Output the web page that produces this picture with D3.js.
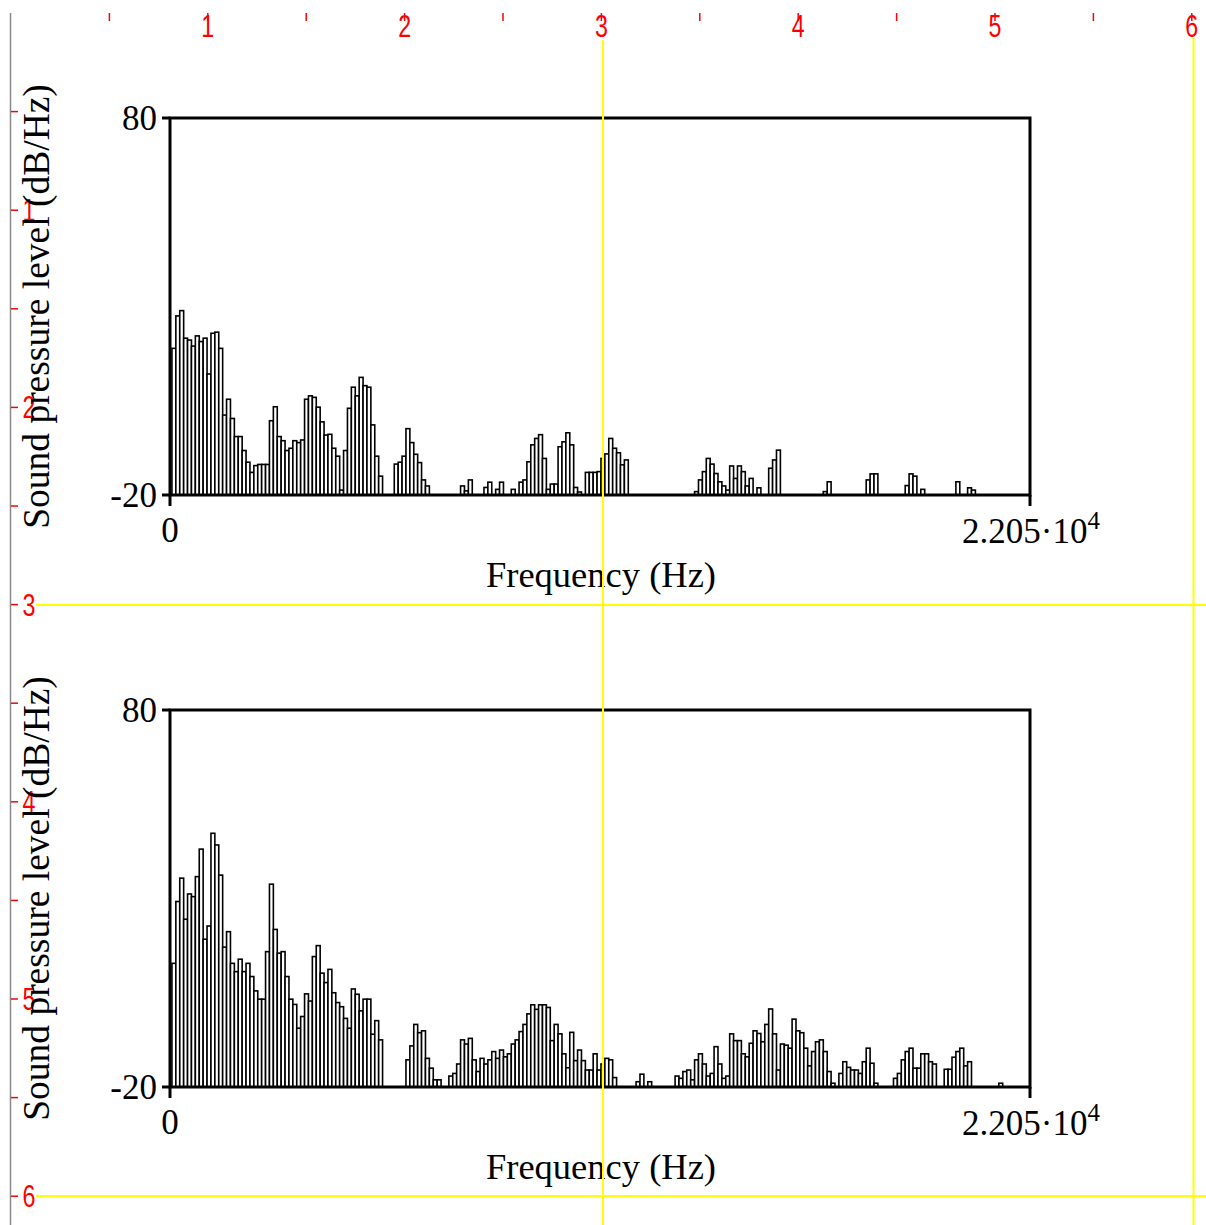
<!DOCTYPE html>
<html><head><meta charset="utf-8">
<script src="https://cdn.jsdelivr.net/npm/d3@7"></script>
<style>html,body{margin:0;padding:0;background:#fff;overflow:hidden} svg{display:block}</style>
</head><body>
<script>
// ---- data (dB/Hz per 100 Hz band; null = below the -20 floor) ----
const binHz = 100;
const topLevels = [
 18.9, 27.5, 28.9, 21.6, 21.1, 19.5, 22.2, 20.7, 21.6, 12.1,
 22.9, 23.2, 18.9, 1.2, 5.4, 0.3, -4.5, -4.5, -8.2, -11.3,
 -14.0, -12.2, -11.9, -11.9, -11.9, -0.3, 3.4, -4.5, -5.6, -8.2,
 -7.6, -5.6, -6.1, -5.4, 5.4, 6.3, 5.9, 3.3, -0.6, -4.1,
 -3.9, -7.6, -9.7, -18.7, -8.2, 3.0, 8.6, 6.3, 11.2, 9.0,
 8.6, -1.4, -9.7, -15.0, null, null, null, -11.8, -11.3, -9.7,
 -2.4, -6.1, -9.2, -11.4, -16.0, -17.6, null, null, null, null,
 null, null, null, null, -17.6, -18.9, -16.0, null, null, null,
 -18.0, -16.6, null, -18.5, -16.6, null, null, -18.5, null, -16.6,
 -16.0, -11.2, -6.7, -5.0, -4.0, -10.3, -18.5, -17.1, -17.1, -7.2,
 -5.9, -3.5, -6.7, -18.0, -19.2, null, -14.0, -14.0, -14.0, -13.8,
 -10.3, -9.1, -5.0, -7.6, -8.8, -12.0, -10.7, null, null, null,
 null, null, null, null, null, null, null, null, null, null,
 null, null, null, null, -19.1, -16.0, -13.8, -10.3, -11.8, -14.3,
 -16.5, -17.6, -18.7, -12.3, -15.6, -12.3, -13.8, -17.6, -15.6, null,
 -18.1, null, null, -12.9, -10.7, -8.1, null, null, null, null,
 null, null, null, null, null, null, null, -19.1, -16.5, null,
 null, null, null, null, null, null, null, null, -16.0, -14.4,
 -14.4, null, null, null, null, null, null, null, -17.5, -14.4,
 -15.0, null, -18.5, null, null, null, null, null, null, null,
 null, -16.5, null, null, -18.1, -18.7
];
const bottomLevels = [
 12.8, 29.2, 35.4, 24.5, 31.2, 30.5, 35.8, 43.1, 19.2, 22.7,
 47.3, 44.2, 36.2, 17.1, 21.2, 12.8, 10.6, 13.9, 10.6, 12.8,
 9.3, 5.5, 3.3, 3.3, 15.9, 33.8, 21.8, 15.5, 15.9, 9.3,
 3.3, 1.9, -4.4, -1.3, 4.7, 2.8, 14.6, 17.5, 10.2, 7.7,
 11.2, 5.0, 2.4, 1.3, -1.8, -4.4, 6.0, 4.6, 0.2, 3.3,
 3.3, -6.0, -2.4, -7.5, null, null, null, null, null, null,
 -12.8, -9.1, -3.4, -5.6, -5.1, -12.4, -15.0, -18.1, -18.1, null,
 null, -17.1, -16.4, -13.9, -7.5, -8.6, -7.1, -12.8, -15.9, -12.4,
 -13.9, -12.8, -10.6, -12.4, -10.2, -12.0, -11.2, -8.6, -7.5, -5.3,
 -3.4, -0.6, 1.8, 0.6, 1.8, 1.8, 1.1, -7.7, -3.4, -5.9,
 -11.2, -14.9, -5.5, -13.0, -10.2, -13.0, -15.5, -15.5, -11.2, -15.5,
 -13.9, -12.4, -12.8, -17.5, null, null, null, null, null, -18.6,
 -16.6, null, -18.6, null, null, null, null, null, null, -17.1,
 -17.7, -15.9, -15.5, -18.1, -12.8, -11.2, -13.9, -17.1, -16.4, -9.3,
 -13.9, -17.7, -17.1, -5.9, -7.7, -7.7, -11.2, -12.0, -8.4, -5.1,
 -5.8, -8.0, -3.4, 0.7, -5.9, -15.5, -8.6, -8.9, -9.7, -2.0,
 -5.1, -5.6, -9.7, -14.4, -10.6, -8.0, -7.5, -10.6, -15.9, -19.0,
 null, -16.4, -13.3, -14.8, -15.5, -15.5, -16.4, -13.3, -9.7, -13.7,
 -19.0, null, null, null, null, -17.7, -16.4, -12.8, -10.6, -9.7,
 -15.0, -15.0, -11.2, -11.2, -13.3, -13.9, null, null, -15.3, -15.3,
 -12.1, -10.6, -9.7, -14.4, -13.3, null, null, null, null, null,
 null, null, -19.0
];
const freqDomain = [0, 22050];
const levelDomain = [-20, 80];
const yTickLabels = ["80", "-20"];
const xTickLabels = ["0", "2.205·10", "4"];
const xAxisTitle = "Frequency (Hz)";
const yAxisTitle = "Sound pressure level (dB/Hz)";
const rulerLabels = ["1", "2", "3", "4", "5", "6"];

// ---- drawing ----
const W = 1206, H = 1225;
const svg = d3.select("body").append("svg").attr("width", W).attr("height", H);
svg.append("rect").attr("width", W).attr("height", H).attr("fill", "#fff");

const serif = "'Liberation Serif','Times New Roman',serif";
const sans = "'Liberation Sans',Arial,sans-serif";

// gray left edge line
svg.append("line").attr("x1", 10.5).attr("x2", 10.5).attr("y1", 13).attr("y2", H)
  .attr("stroke", "#8a8a8a").attr("stroke-width", 1.5);

// rulers (inches)
const rulerX = d3.scaleLinear().domain([0, 6]).range([11, 1191.8]);
const rulerY = d3.scaleLinear().domain([0, 6]).range([13, 1196.2]);
const halves = d3.range(1, 13).map(i => i / 2);
const red = "#ff0000";
svg.append("g").selectAll("line").data(halves).join("line")
  .attr("x1", d => rulerX(d)).attr("x2", d => rulerX(d)).attr("y1", 13).attr("y2", 21)
  .attr("stroke", red).attr("stroke-width", 1.5);
svg.append("g").selectAll("line").data(halves).join("line")
  .attr("y1", d => rulerY(d)).attr("y2", d => rulerY(d)).attr("x1", 11).attr("x2", 18)
  .attr("stroke", red).attr("stroke-width", 1.5);
svg.append("g").selectAll("text").data(rulerLabels).join("text")
  .attr("transform", (d, i) => `translate(${rulerX(i + 1)},37) scale(0.75,1)`)
  .attr("text-anchor", "middle").attr("font-family", sans).attr("font-size", 31)
  .attr("fill", red).text(d => d);
svg.append("g").selectAll("text").data(rulerLabels).join("text")
  .attr("transform", (d, i) => `translate(29,${rulerY(i + 1) + 11}) scale(0.75,1)`)
  .attr("text-anchor", "middle").attr("font-family", sans).attr("font-size", 31)
  .attr("fill", red).text(d => d);

const x = d3.scaleLinear().domain(freqDomain).range([170, 1030]);

function panel(levels, top, bottom) {
  const y = d3.scaleLinear().domain(levelDomain).range([bottom, top]);
  const g = svg.append("g");
  const bins = levels.map((v, i) => ({ v, lo: (i + 0.5) * binHz, hi: (i + 1.5) * binHz }))
    .filter(d => d.v !== null);
  g.append("g").selectAll("rect").data(bins).join("rect")
    .attr("x", d => x(d.lo)).attr("width", d => x(d.hi) - x(d.lo))
    .attr("y", d => y(d.v)).attr("height", d => y(levelDomain[0]) - y(d.v))
    .attr("fill", "#fff").attr("stroke", "#000").attr("stroke-width", 1.6);
  // frame
  g.append("rect").attr("x", x(freqDomain[0])).attr("y", top)
    .attr("width", x(freqDomain[1]) - x(freqDomain[0])).attr("height", bottom - top)
    .attr("fill", "none").attr("stroke", "#000").attr("stroke-width", 3);
  // y ticks
  levelDomain.slice().reverse().forEach((lv, i) => {
    g.append("line").attr("x1", x(0) - 8).attr("x2", x(0)).attr("y1", y(lv)).attr("y2", y(lv))
      .attr("stroke", "#000").attr("stroke-width", 3);
    g.append("text").attr("x", 157).attr("y", y(lv) + 12).attr("text-anchor", "end")
      .attr("font-family", serif).attr("font-size", 35).attr("fill", "#000").text(yTickLabels[i]);
  });
  // x ticks
  freqDomain.forEach(f => {
    g.append("line").attr("x1", x(f)).attr("x2", x(f)).attr("y1", bottom).attr("y2", bottom + 11)
      .attr("stroke", "#000").attr("stroke-width", 3);
  });
  g.append("text").attr("x", x(freqDomain[0])).attr("y", bottom + 47).attr("text-anchor", "middle")
    .attr("font-family", serif).attr("font-size", 35).text(xTickLabels[0]);
  const t = g.append("text").attr("x", x(freqDomain[1]) + 1).attr("y", bottom + 48)
    .attr("text-anchor", "middle").attr("font-family", serif).attr("font-size", 35);
  t.append("tspan").text(xTickLabels[1]);
  t.append("tspan").attr("dy", -14).attr("font-size", 25).text(xTickLabels[2]);
  g.append("text").attr("x", 601).attr("y", bottom + 92).attr("text-anchor", "middle")
    .attr("font-family", serif).attr("font-size", 36.5).text(xAxisTitle);
  const cy = (top + bottom) / 2;
  g.append("text").attr("transform", `translate(49,${cy}) rotate(-90)`).attr("text-anchor", "middle")
    .attr("font-family", serif).attr("font-size", 37.5).text(yAxisTitle);
}
panel(topLevels, 118, 495);
panel(bottomLevels, 710, 1087);

// yellow selection lines
const yellow = "#ffff00";
svg.append("line").attr("x1", 603).attr("x2", 603).attr("y1", 40).attr("y2", H).attr("stroke", yellow).attr("stroke-width", 2);
svg.append("line").attr("x1", 1193.5).attr("x2", 1193.5).attr("y1", 38).attr("y2", H).attr("stroke", yellow).attr("stroke-width", 2);
svg.append("line").attr("x1", 36).attr("x2", W).attr("y1", 605).attr("y2", 605).attr("stroke", yellow).attr("stroke-width", 2);
svg.append("line").attr("x1", 36).attr("x2", W).attr("y1", 1196).attr("y2", 1196).attr("stroke", yellow).attr("stroke-width", 2);
</script>
</body></html>
